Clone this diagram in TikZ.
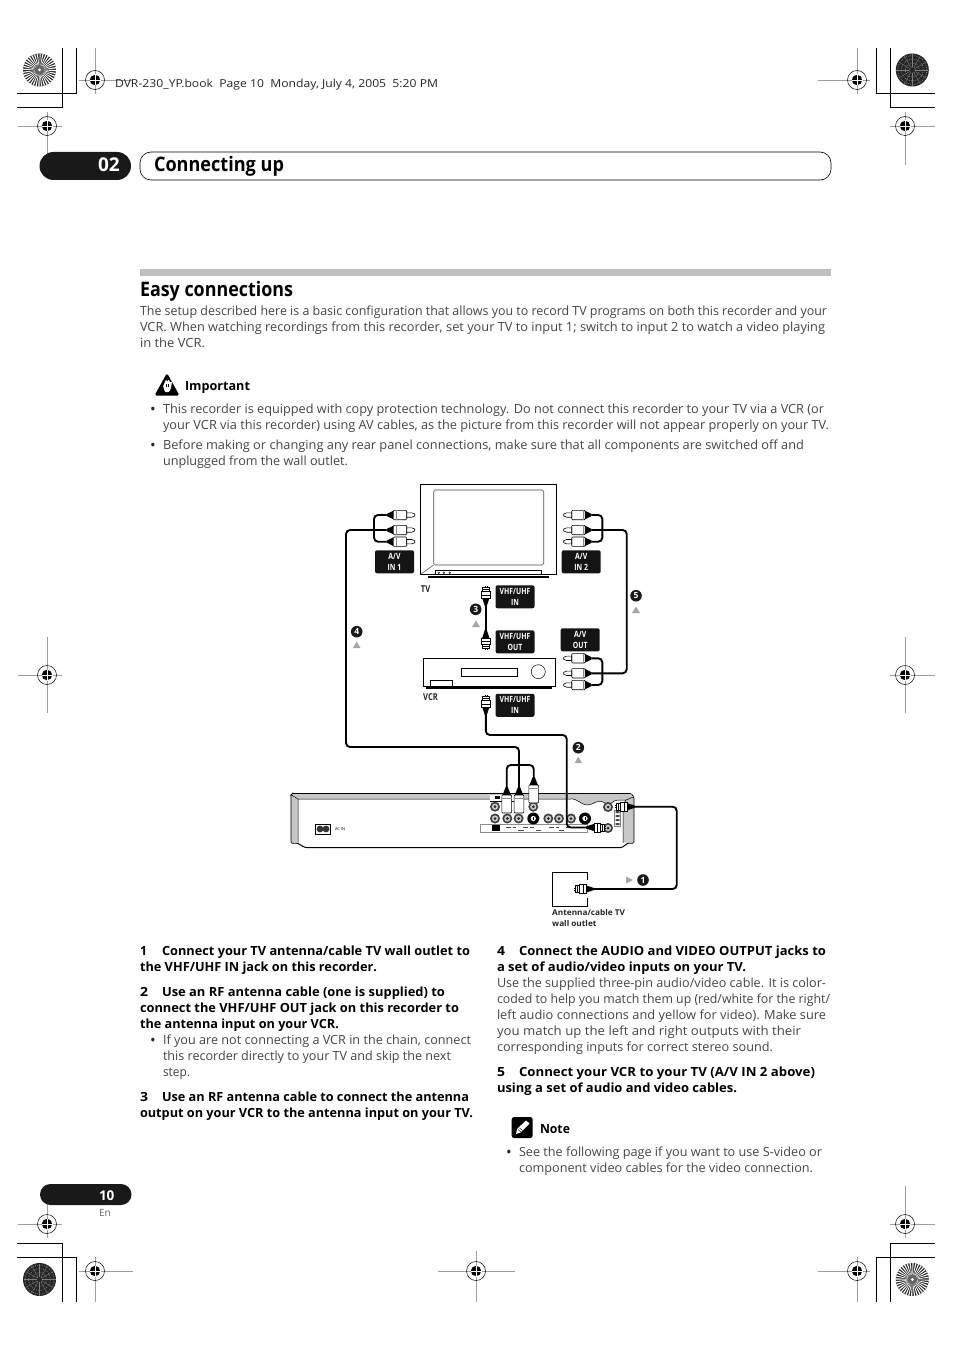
\documentclass[tikz,border=0pt]{standalone}
\usepackage{fontspec}
\usepackage{graphicx}
\setmainfont{Open Sans}
\usetikzlibrary{calc}
\definecolor{bodytxt}{gray}{0.27}
\definecolor{markgray}{gray}{0.62}
\newcommand\bodyfont{\fontsize{12.6}{15}\selectfont\color{bodytxt}}
\newcommand\boldfont{\fontsize{12.6}{15}\selectfont\bfseries\color{black}}
\newcommand\cond[1]{\scalebox{.8}[1]{#1}}
\newcommand\tl[5]{\node[txt] (#1) at (#2,#3+1) {\bodyfont\resizebox{\dimexpr#4pt-#2pt\relax}{\height}{#5}};}
\newcommand\tb[5]{\node[txt] (#1) at (#2,#3+1) {\boldfont\resizebox{\dimexpr#4pt-#2pt\relax}{\height}{#5}};}
\newcommand\regm[6]{%
  \draw[markln] (#1-#3,#2) -- (#1+#4,#2);
  \draw[markln] (#1,#2-#5) -- (#1,#2+#6);
  \draw[black,line width=.5] (#1,#2) circle (9.5);
  \fill[black] (#1,#2) circle (5.2);
  \draw[white,line width=.9] (#1-5.5,#2) -- (#1+5.5,#2) (#1,#2-5.5) -- (#1,#2+5.5);
}
\newcommand\starwheel[2]{%
  \fill[black!85] (#1,#2) circle (16.5);
  \foreach \a in {0,10,...,350}{
    \fill[white] (#1,#2) -- ++(\a:16.5) arc[start angle=\a,end angle=\a+4.5,radius=16.5] -- cycle;
  }
  \fill[black!60] (#1,#2) circle (5);
  \fill[white] (#1,#2) circle (1.5);
}
\newcommand\darkwheel[2]{%
  \fill[black!85] (#1,#2) circle (16.5);
  \foreach \r in {3,7,11,14.5}{
    \draw[white!55!black,line width=.7,dash pattern=on .8pt off 1.4pt] (#1,#2) circle (\r);
  }
  \foreach \a in {0,30,...,330}{
    \draw[white!50!black,line width=.35] (#1,#2) ++(\a:3) -- ++(\a:13);
  }
}
\newcommand\jack[2]{%
  \fill[black!75] (#1,#2) circle (5);
  \fill[white!80!black] (#1,#2) circle (3.1);
  \fill[black!85] (#1,#2) circle (1.5);
}
\newcommand\svid[2]{%
  \fill[black] (#1,#2) circle (6);
  \fill[white] (#1,#2) circle (2.6);
  \fill[black] (#1-.5,#2-1.5) rectangle (#1+.5,#2+1.5);
}
\tikzset{
  x=1pt,y=-1pt,
  txt/.style={anchor=base west,inner sep=0pt,outer sep=0pt},
  markln/.style={draw=markgray,line width=.7},
  cropln/.style={draw=black,line width=.75},
  cable/.style={draw=black,line width=1.9,rounded corners=4},
  lbl/.style={fill=black!92,rounded corners=2,text=white,align=center,minimum width=39,minimum height=23,inner sep=0pt,font=\fontsize{8.6}{11}\selectfont\bfseries},
  stepnum/.style={circle,fill=black!90,text=white,inner sep=0pt,minimum size=11.6,font=\fontsize{8.5}{8.5}\selectfont\bfseries},
  smallcap/.style={anchor=base west,inner sep=0pt,font=\fontsize{9.5}{11}\selectfont\bfseries\color{black!85}},
  widecap/.style={anchor=base west,inner sep=0pt,font=\fontsize{8}{11}\selectfont\bfseries\color{black!85}},
  tri/.style={fill=black!35,draw=none},
  bult/.style={anchor=base west,inner sep=0pt,outer sep=0pt,text=black!85,font=\fontsize{15}{15}\selectfont},
  rca/.pic={
    \fill[black] (0,-1) -- (6.5,-4.2) -- (6.5,4.2) -- (0,1) -- cycle;
    \draw[black,line width=.6,fill=white,rounded corners=1] (6.5,-4.7) rectangle (20,4.7);
    \draw[black!45,line width=.4] (9,-4.7) -- (9,4.7);
    \draw[black,line width=.6,fill=white] (20,-2.2) -- (25,-2.2) -- (28,-1) -- (28,1) -- (25,2.2) -- (20,2.2) -- cycle;
  },
  rcav/.pic={
    \fill[black] (0,-1) -- (8,-4.2) -- (8,4.2) -- (0,1) -- cycle;
    \draw[black,line width=.6,fill=white,rounded corners=1] (8,-4.9) rectangle (26,4.9);
    \draw[black!45,line width=.4] (11,-4.9) -- (11,4.9);
  },
  rf/.pic={
    \fill[black] (0,-1) -- (8,-3.6) -- (8,3.6) -- (0,1) -- cycle;
    \draw[black,line width=.6,fill=white] (8,-4.6) rectangle (14.5,4.6);
    \draw[black,line width=.5,fill=white] (14.5,-3.6) rectangle (18.5,3.6);
    \draw[black,line width=.5] (11,-4.6) -- (11,4.6) (16.3,-3.6) -- (16.3,3.6);
    \draw[black,line width=.6] (18.5,-1) -- (20,-1) (18.5,1) -- (20,1);
  },
}
\begin{document}
\begin{tikzpicture}
\useasboundingbox (0,0) rectangle (954,1351);
\fill[white] (0,0) rectangle (954,1351);

% crop corners
\draw[cropln] (62,48) -- (62,107) -- (17,107);
\draw[cropln] (76,48) -- (76,93) -- (17,93);
\draw[cropln] (890,48) -- (890,107) -- (935,107);
\draw[cropln] (876,48) -- (876,93) -- (935,93);
\draw[cropln] (62,1302) -- (62,1243) -- (17,1243);
\draw[cropln] (76,1302) -- (76,1257) -- (17,1257);
\draw[cropln] (890,1302) -- (890,1243) -- (935,1243);
\draw[cropln] (876,1302) -- (876,1257) -- (935,1257);

\starwheel{39.5}{70}
\darkwheel{912.3}{70}
\darkwheel{39.5}{1279.5}
\starwheel{912.3}{1279.5}

% registration marks
\regm{95}{80}{16}{38}{32}{14}
\regm{857}{80}{39}{13}{32}{14}
\regm{47}{126}{29}{15}{14}{39}
\regm{905}{126}{15}{30}{14}{39}
\regm{47}{675}{29}{15}{38}{38}
\regm{905}{675}{15}{30}{38}{38}
\regm{47}{1224}{29}{15}{38}{14}
\regm{905}{1224}{15}{30}{38}{14}
\regm{95}{1271}{16}{38}{14}{31}
\regm{476}{1271}{38}{39}{20}{31}
\regm{857}{1271}{39}{13}{14}{31}

% header pills
\fill[black!90,rounded corners=14] (39.5,152) rectangle (131,180);
\node[txt,text=white,font=\fontsize{19}{19}\selectfont\bfseries] (chapnum) at (98,172) {02};
\draw[black,line width=.6,rounded corners=11] (140,152) rectangle (831,180);
\node[txt,font=\fontsize{20}{20}\selectfont\bfseries] (title) at (154,172) {\resizebox{130pt}{\height}{Connecting up}};

\node[txt,font=\fontsize{11}{13}\selectfont,text=black!85] (bookline) at (115,88) {\resizebox{323pt}{\height}{DVR-230\_YP.book\ \ Page 10\ \ Monday, July 4, 2005\ \ 5:20 PM}};

% section
\fill[black!25] (140,269) rectangle (831,275.5);
\node[txt,font=\fontsize{20}{20}\selectfont\bfseries] (sect) at (140,296.5) {\resizebox{153pt}{\height}{Easy connections}};

\tl{p1}{140}{314.5}{827}{The setup described here is a basic configuration that allows you to record TV programs on both this recorder and your}
\tl{p2}{140}{330.5}{825}{VCR. When watching recordings from this recorder, set your TV to input 1; switch to input 2 to watch a video playing}
\tl{p3}{140}{346.5}{205}{in the VCR.}

% important icon
\fill[black,rounded corners=1.8] (167,373) -- (179.5,395.5) -- (154.5,395.5) -- cycle;
\fill[white,rounded corners=.7] (165,382) -- (166,379.5) -- (167.3,382) -- (168.6,379.5) -- (170,382.5) -- (172,381.5) -- (171,388) -- (169,392) -- (165,392) -- (163,386) -- cycle;
\draw[black,line width=.4] (166,384) -- (166,387) (168,384) -- (168,387);
\tb{imp}{185}{389.5}{250}{Important}

\node[bult] (b1) at (150,414) {•};
\tl{i1}{163}{412.5}{824}{This recorder is equipped with copy protection technology. Do not connect this recorder to your TV via a VCR (or}
\tl{i2}{163}{428.5}{829}{your VCR via this recorder) using AV cables, as the picture from this recorder will not appear properly on your TV.}
\node[bult] (b2) at (150,450) {•};
\tl{i3}{163}{448.5}{804}{Before making or changing any rear panel connections, make sure that all components are switched off and}
\tl{i4}{163}{464.5}{348}{unplugged from the wall outlet.}

% === diagram ===
% TV
\draw[black,line width=1,fill=white] (420.7,484.3) rectangle (556.7,574.3);
\draw[black!70,line width=.6,rounded corners=1.5] (433.7,490) rectangle (543.7,565);
\draw[black!70,line width=.5] (420.7,574.3) -- (433.7,565);
\draw[black,line width=.6] (435.7,570.7) rectangle (541.7,574.3);
\foreach \cx in {438.7,443.7,449.7} \draw[black,line width=.35] (\cx,572.7) circle (.9);
\draw[black,line width=1.8] (427.5,576.7) -- (549,576.7);
\node[smallcap] (tvl) at (420.7,592) {\cond{TV}};

% VCR
\draw[black,line width=.8,fill=white] (423.3,658.3) rectangle (555,686);
\draw[black,line width=.6] (461.3,668.3) rectangle (517.7,676.7);
\draw[black,line width=.5] (538.3,671.7) circle (7);
\draw[black,line width=.6] (430,686) -- (430,680.7) -- (452.3,680.7) -- (452.3,686);
\draw[black,line width=1.6] (426,688) -- (552,688);
\node[smallcap] (vcrl) at (423,700.5) {\cond{VCR}};

% labels
\node[lbl] (avin1) at (394.5,561.8) {\cond{A/V}\\\cond{IN 1}};
\node[lbl] (avin2) at (581.2,561.8) {\cond{A/V}\\\cond{IN 2}};
\node[lbl] (vhfin) at (515,596.8) {\cond{VHF/UHF}\\\cond{IN}};
\node[lbl] (vhfout) at (515,641.8) {\cond{VHF/UHF}\\\cond{OUT}};
\node[lbl] (avout) at (580.2,639.8) {\cond{A/V}\\\cond{OUT}};
\node[lbl] (vhfin2) at (515,705.3) {\cond{VHF/UHF}\\\cond{IN}};

% recorder body
\draw[black,line width=1,fill=white,rounded corners=1.2] (291,795) -- (292.5,793.5) -- (631,793.5) -- (633.8,797) -- (633.8,843) -- (628,843) -- (622,847.5) -- (305,847.5) -- (297,843) -- (291,843) -- cycle;
\fill[black!22] (291.5,795) -- (292.5,794) -- (631,794) -- (633.3,797) -- (633.3,842.5) -- (623,842.5) -- (623,805) -- (626,800) -- (618,800) .. controls (612,800) and (612,806) .. (605,803) .. controls (597,798) and (594,805) .. (588,805) .. controls (580,805) and (578,798) .. (570,799) -- (298,799) -- (298,842.5) -- (291.5,842.5) -- cycle;
\draw[black,line width=.5] (298,842.5) -- (298,799) -- (570,799) .. controls (578,798) and (580,805) .. (588,805) .. controls (594,805) and (597,798) .. (605,803) .. controls (612,806) and (612,800) .. (618,800) -- (626,800) -- (623,805) -- (623,842.5);
\draw[black,line width=.5] (291.5,795) -- (298,799) (633.3,797) -- (626,800);
\fill[white] (490,794.5) rectangle (520,801);
\draw[black,line width=.4] (490,801) -- (520,801);
\fill[black] (495,796) rectangle (500,799);

% AC in
\draw[black,line width=1] (315,824) rectangle (330.7,834.3);
\fill[black!80] (320,829) circle (3.4) (326,829) circle (3.4);
\node[txt,font=\fontsize{4}{4}\selectfont,text=black] (acin) at (335,830.5) {AC IN};

% jacks and strip
\draw[black!45,line width=.5] (480,824) rectangle (587,832.5);
\fill[black] (492,825) rectangle (500,830.5);
\foreach \cx/\cw in {506/5,513/3,523/5,530/4,549/5,556/3,566/5,574/3}
  \fill[black!70] (\cx,826.5) rectangle (\cx+\cw,827.3);
\foreach \cx/\cw in {518/6,536/5,559/5}
  \fill[black!70] (\cx,829.5) rectangle (\cx+\cw,830.3);
\jack{495}{806.7}
\jack{533.3}{806.7}
\jack{495}{818.5}
\jack{507.3}{818.5}
\jack{518.6}{818.5}
\svid{533.3}{818.5}
\jack{548.3}{818.5}
\jack{559}{818.5}
\jack{571}{818.5}
\svid{585}{818.5}
\jack{608}{807}
\jack{608}{828}
\fill[black!70] (615.5,811) rectangle (619.5,813) (615.5,815) rectangle (619.5,817) (615.5,819) rectangle (619.5,821) (615.5,823) rectangle (619.5,825);
\draw[black!50,line width=.4] (614.5,810) rectangle (620.5,826);

% wall outlet
\draw[black,line width=1.1] (587.7,880) -- (587.7,872.3) -- (552.7,872.3) -- (552.7,906.7) -- (587.7,906.7) -- (587.7,898);
\node[widecap] (wall1) at (552,915.5) {\scalebox{1.03}[1]{Antenna/cable TV}};
\node[widecap] (wall2) at (552,926.5) {\scalebox{1.03}[1]{wall outlet}};

% plug anchors
\coordinate (tl1) at (386.7,515);
\coordinate (tl2) at (386.7,530);
\coordinate (tl3) at (386.7,541.7);
\coordinate (tr1) at (591.7,515);
\coordinate (tr2) at (591.7,530);
\coordinate (tr3) at (591.7,541.7);
\coordinate (vr1) at (591.7,658.3);
\coordinate (vr2) at (591.7,673.3);
\coordinate (vr3) at (591.7,685);
\coordinate (rt) at (485.8,606);
\coordinate (rb) at (485.8,630);
\coordinate (rv) at (485.8,715);
\coordinate (ra1) at (506.7,787);
\coordinate (ra2) at (519,787);
\coordinate (ra3) at (533.7,777);
\coordinate (rfa) at (586,827.5);
\coordinate (rfb) at (635,806.7);
\coordinate (wo) at (594,889);

% cables
\draw[cable] (tl1) -- (374,515) -- (374,541.7) -- (tl3);
\draw[cable] (tl2) -- (346,530) -- (346,747) -- (519,747) -- (ra2);
\draw[cable] (tr1) -- (602.3,515) -- (602.3,541.7) -- (tr3);
\draw[cable] (tr2) -- (626.7,530) -- (626.7,673.3) -- (vr2);
\draw[cable] (vr1) -- (602.3,658.3) -- (602.3,685) -- (vr3);
\draw[cable] (rt) -- (rb);
\draw[cable] (rv) -- (485.8,735) -- (566.7,735) -- (566.7,827.5) -- (rfa);
\draw[cable] (ra1) -- (506.7,765) -- (533.7,765) -- (ra3);
\draw[cable] (rfb) -- (676.7,806.7) -- (676.7,889) -- (wo);

% plugs
\pic at (tl1) {rca};
\pic at (tl2) {rca};
\pic at (tl3) {rca};
\pic[xscale=-1] at (tr1) {rca};
\pic[xscale=-1] at (tr2) {rca};
\pic[xscale=-1] at (tr3) {rca};
\pic[xscale=-1] at (vr1) {rca};
\pic[xscale=-1] at (vr2) {rca};
\pic[xscale=-1] at (vr3) {rca};
\pic[rotate=90] at (rt) {rf};
\pic[rotate=-90] at (rb) {rf};
\pic[rotate=90] at (rv) {rf};
\pic[rotate=-90] at (ra1) {rcav};
\pic[rotate=-90] at (ra2) {rcav};
\pic[rotate=-90] at (ra3) {rcav};
\pic at (rfa) {rf};
\pic[xscale=-1] at (rfb) {rf};
\pic[xscale=-1] at (wo) {rf};

% step numbers
\node[stepnum] (n1) at (643,880) {1};
\node[stepnum] (n2) at (578.3,747.7) {2};
\node[stepnum] (n3) at (475.7,609.3) {3};
\node[stepnum] (n4) at (356.7,631.7) {4};
\node[stepnum] (n5) at (636,595.7) {5};
\fill[tri] (626,876.5) -- (633,880) -- (626,883.5) -- cycle;
\fill[tri] (578.3,756.5) -- (582,763) -- (574.6,763) -- cycle;
\fill[tri] (476,620.5) -- (480,627) -- (472,627) -- cycle;
\fill[tri] (356.7,641.5) -- (360.5,648) -- (352.9,648) -- cycle;
\fill[tri] (636,606.5) -- (640,613) -- (632,613) -- cycle;

% left column
\tb{l1n}{140}{954.5}{147}{1}
\tb{l1}{162}{954.5}{470}{Connect your TV antenna/cable TV wall outlet to}
\tb{l2}{140}{970.5}{377}{the VHF/UHF IN jack on this recorder.}
\tb{l3n}{140}{995.5}{148}{2}
\tb{l3}{162}{995.5}{445}{Use an RF antenna cable (one is supplied) to}
\tb{l4}{140}{1011.5}{459}{connect the VHF/UHF OUT jack on this recorder to}
\tb{l5}{140}{1027.5}{339}{the antenna input on your VCR.}
\node[bult] (b3) at (150,1045) {•};
\tl{l6}{163}{1043.5}{471}{If you are not connecting a VCR in the chain, connect}
\tl{l7}{163}{1059.5}{451}{this recorder directly to your TV and skip the next}
\tl{l8}{163}{1075.5}{190}{step.}
\tb{l9n}{140}{1100.5}{148}{3}
\tb{l9}{162}{1100.5}{469}{Use an RF antenna cable to connect the antenna}
\tb{l10}{140}{1116.5}{473}{output on your VCR to the antenna input on your TV.}

% right column
\tb{r1n}{497}{954.5}{505}{4}
\tb{r1}{519}{954.5}{826}{Connect the AUDIO and VIDEO OUTPUT jacks to}
\tb{r2}{497}{970.5}{746}{a set of audio/video inputs on your TV.}
\tl{r3}{497}{986.5}{826}{Use the supplied three-pin audio/video cable. It is color-}
\tl{r4}{497}{1002.5}{830}{coded to help you match them up (red/white for the right/}
\tl{r5}{497}{1018.5}{826}{left audio connections and yellow for video). Make sure}
\tl{r6}{497}{1034.5}{801}{you match up the left and right outputs with their}
\tl{r7}{497}{1050.5}{773}{corresponding inputs for correct stereo sound.}
\tb{r8n}{497}{1075.5}{505}{5}
\tb{r8}{519}{1075.5}{815}{Connect your VCR to your TV (A/V IN 2 above)}
\tb{r9}{497}{1091.5}{737}{using a set of audio and video cables.}

% note
\fill[black,rounded corners=2.5] (511.7,1117) rectangle (532.7,1138);
\fill[white] (516,1134) -- (517,1129) -- (526,1120.5) -- (529.5,1123.5) -- (520.5,1132.5) -- cycle;
\draw[black,line width=.4] (518,1129.5) -- (521,1132) (519.5,1128) -- (522.5,1130.5);
\tb{note}{540}{1132.5}{570}{Note}
\node[bult] (b4) at (506,1157) {•};
\tl{n1t}{519}{1155.5}{822}{See the following page if you want to use S-video or}
\tl{n2t}{519}{1171.5}{813}{component video cables for the video connection.}

% footer
\fill[black!90,rounded corners=10.5] (40,1184) rectangle (131.5,1205);
\node[txt,text=white,font=\fontsize{13.5}{14}\selectfont\bfseries] (pgnum) at (99,1200) {10};
\node[txt,text=black!60,font=\fontsize{10}{11}\selectfont] (en) at (99,1216) {En};
\end{tikzpicture}
\end{document}
